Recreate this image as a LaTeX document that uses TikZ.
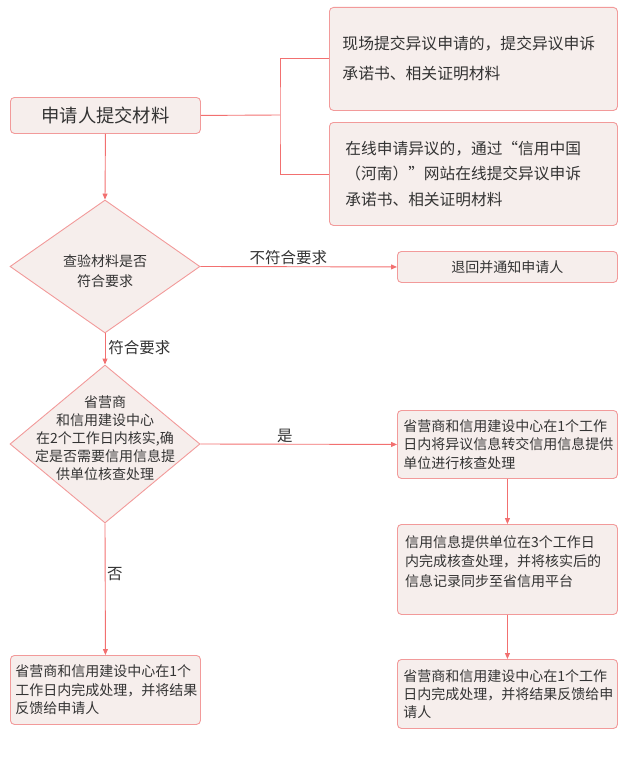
\documentclass[tikz,border=0pt]{standalone}
\usepackage{fontspec}
\setmainfont{Noto Sans CJK SC}
\usetikzlibrary{arrows.meta,shapes.geometric}
\definecolor{bfill}{HTML}{F6EEEC}
\definecolor{bdraw}{HTML}{F29A9A}
\definecolor{lcol}{HTML}{F27070}
\definecolor{tcol}{HTML}{333333}
\begin{document}
\begin{tikzpicture}[x=1pt,y=-1pt,
  box/.style={draw=bdraw, fill=bfill, rounded corners=4pt, line width=0.9pt, inner ysep=0pt, text=tcol, anchor=north west},
  dia/.style={diamond, draw=bdraw, fill=bfill, line width=0.9pt, inner sep=0pt},
  conn/.style={draw=lcol, line width=0.9pt},
  arr/.style={conn, -{Triangle[length=6pt,width=5pt]}},
  lab/.style={text=tcol, font=\fontsize{15.5}{18}\selectfont, inner sep=0pt},
  txt/.style={text=tcol, inner sep=0pt},
  f14/.style={font=\fontsize{14}{18.3}\selectfont}]
\useasboundingbox (0,0) rectangle (630,760);

% boxes
\node[box, minimum width=190pt, minimum height=36pt, inner xsep=0pt, font=\fontsize{18.3}{20}\selectfont] (a) at (10,97) {申请人提交材料};
\node[box, text width=262pt, inner xsep=13pt, minimum height=103pt, align=left, font=\fontsize{15.8}{30}\selectfont] (b1) at (329,7) {现场提交异议申请的，提交异议申诉\\承诺书、相关证明材料};
\node[box, text width=256pt, inner xsep=16pt, minimum height=103pt, align=left, font=\fontsize{15.7}{25.8}\selectfont] (b2) at (329,122) {在线申请异议的，通过“信用中国\\（河南）”网站在线提交异议申诉\\承诺书、相关证明材料};
\node[box, minimum width=220pt, minimum height=31pt, inner xsep=0pt, f14] (c) at (397,251) {退回并通知申请人};
\node[box, text width=208pt, inner xsep=6pt, minimum height=68pt, align=left, f14] (d) at (397,410) {省营商和信用建设中心在1个工作\\日内将异议信息转交信用信息提供\\单位进行核查处理};
\node[box, minimum width=220pt, minimum height=90pt, inner xsep=0pt] (e) at (397,524) {};
\node[txt, anchor=west, align=left, font=\fontsize{14}{19.7}\selectfont] (et) at (405,561.5) {信用信息提供单位在3个工作日\\内完成核查处理，并将核实后的\\信息记录同步至省信用平台};
\node[box, text width=208pt, inner xsep=6pt, minimum height=69pt, align=left, f14] (f) at (397,659) {省营商和信用建设中心在1个工作\\日内完成处理，并将结果反馈给申\\请人};
\node[box, text width=180pt, inner xsep=5pt, minimum height=69pt, align=left, f14] (g) at (10,655) {省营商和信用建设中心在1个\\工作日内完成处理，并将结果\\反馈给申请人};

% diamonds
\node[dia, minimum width=190pt, minimum height=133pt] (d1) at (105,266.5) {};
\node[txt, align=center, font=\fontsize{14}{20}\selectfont] (d1t) at (105,271) {查验材料是否\\符合要求};
\node[dia, minimum width=190pt, minimum height=158pt] (d2) at (105,444) {};
\node[txt, align=center, font=\fontsize{14}{18}\selectfont] (d2t) at (105,438) {省营商\\和信用建设中心\\在2个工作日内核实,确\\定是否需要信用信息提\\供单位核查处理};

% connectors
\coordinate (j) at (280,115);
\draw[conn] (a.east) -- (j);
\draw[conn] (b1.west) -| (j) |- (b2.west);
\draw[arr] (a.south) -- (d1.north);
\draw[arr] (d1.east) -- node[lab, pos=0.447, yshift=9pt]{不符合要求} (c.west);
\draw[arr] (d1.south) -- node[lab, pos=0.44, anchor=west, xshift=3pt]{符合要求} (d2.north);
\draw[arr] (d2.east) -- node[lab, pos=0.43, yshift=8pt]{是} (d.west);
\draw[arr] (d.south) -- (e.north);
\draw[arr] (e.south) -- (f.north);
\draw[arr] (d2.south) -- node[lab, pos=0.386, anchor=west, xshift=1.5pt]{否} (g.north);
\end{tikzpicture}
\end{document}
